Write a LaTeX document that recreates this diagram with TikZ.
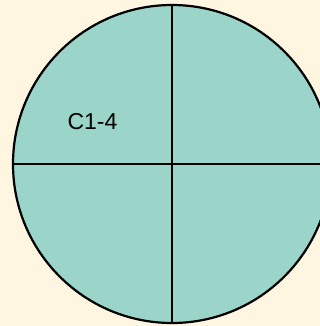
\documentclass[tikz,border=0pt]{standalone}
\usepackage{fontspec}
\setmainfont{Liberation Sans}
\definecolor{pcream}{HTML}{FFF6E1}
\definecolor{pteal}{HTML}{9BD5CA}
\usetikzlibrary{positioning}

\begin{document}
\begin{tikzpicture}[x=1pt,y=-1pt,
  disc/.style={circle,draw=black,line width=2.2pt,fill=pteal,minimum size=318pt,inner sep=0pt},
  cut/.style={line width=2.2pt,black},
  tag/.style={font=\fontsize{23}{26}\selectfont,inner sep=0pt}]
  \fill[pcream] (0,0) rectangle (320,326);
  \useasboundingbox (0,0) rectangle (320,326);
  \clip (0,0) rectangle (320,326);
  \node[disc] (pie) at (172,164) {};
  \draw[cut] (pie.north) -- (pie.south);
  \draw[cut] (pie.west) -- (pie.east);
  \node[tag] (c14) at (92.5,122) {C1-4};
\end{tikzpicture}
\end{document}
